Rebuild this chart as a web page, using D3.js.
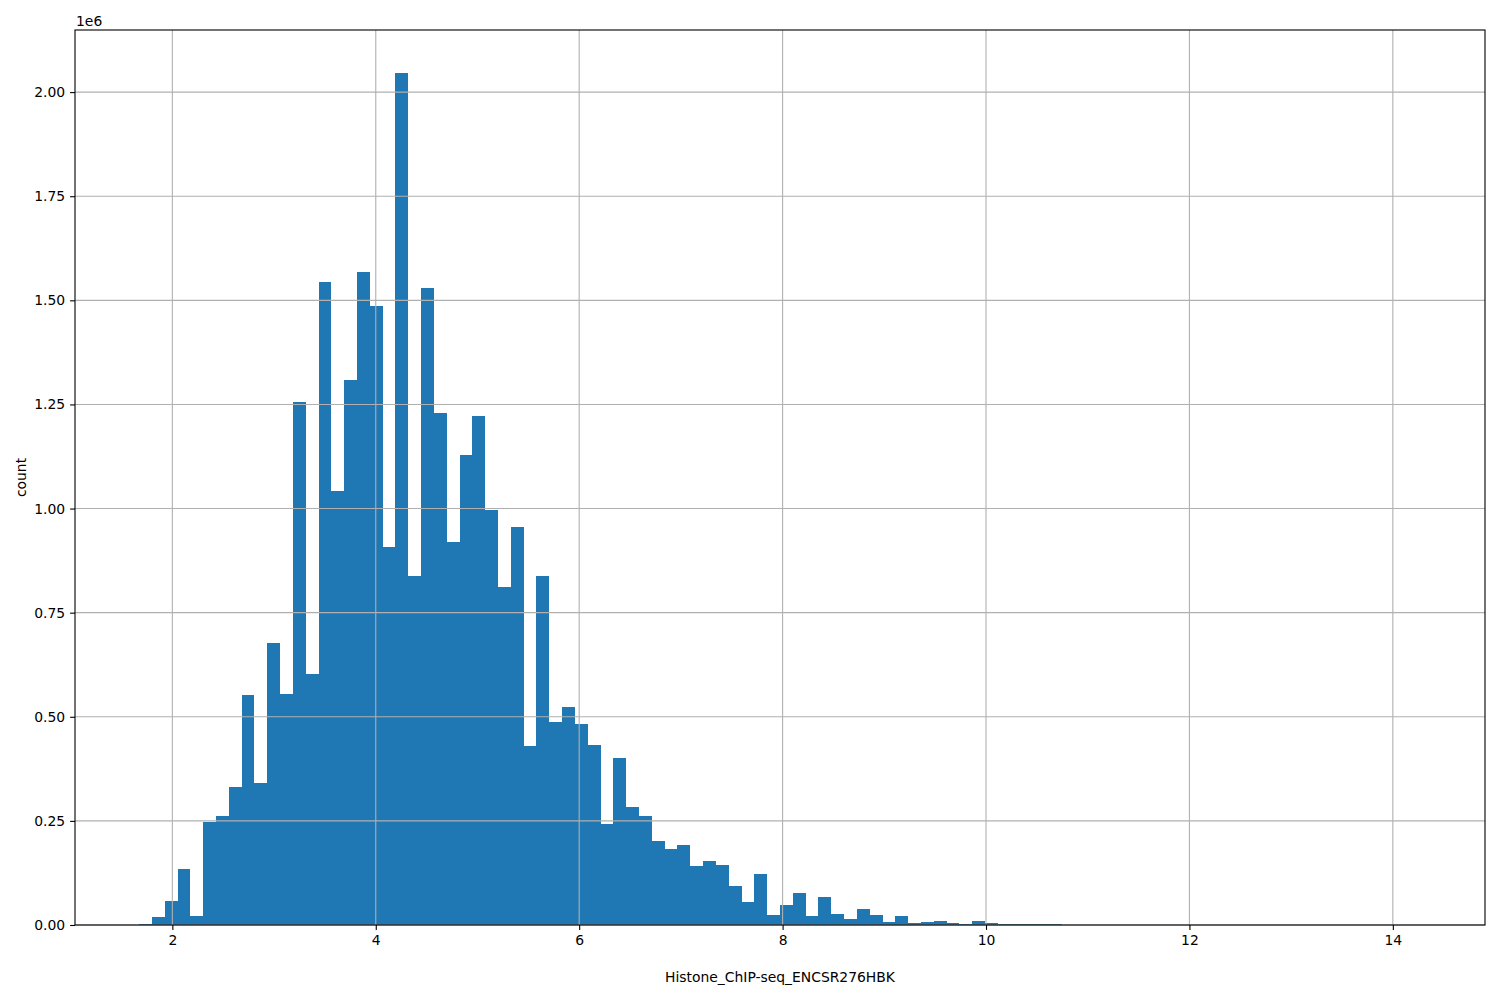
<!DOCTYPE html>
<html>
<head>
<meta charset="utf-8">
<script src="https://cdn.jsdelivr.net/npm/d3@7"></script>
<style>
  body { margin: 0; background: #fff; }
  svg { display: block; font-family: "DejaVu Sans", sans-serif; }
</style>
</head>
<body>
<svg id="chart" width="1500" height="1000"></svg>
<script>
// ---- data ----
const binMin = 1.673;
const binMax = 14.276;
const counts = [
  2400, 20000, 58000, 134500, 22000, 248000, 262000, 331500, 552500, 341000,
  677000, 555000, 1256000, 603000, 1544600, 1043000, 1309000, 1568600, 1487000, 908800,
  2046800, 838500, 1530000, 1230000, 920000, 1129000, 1222400, 997000, 812400, 955800,
  430000, 838500, 487600, 523700, 482800, 432400, 242600, 401200, 283500, 261800,
  201800, 182600, 192200, 141700, 153700, 144100, 93700, 55200, 122500, 24000,
  48000, 76900, 21600, 67300, 26400, 14400, 38400, 24000, 7200, 21600,
  4800, 7200, 9600, 4800, 2400, 9600, 4800, 2600, 2200, 1900,
  1700, 1400, 600, 450, 350, 280, 220, 180, 150, 120,
  100, 80, 70, 60, 50, 40, 35, 30, 25, 20,
  15, 12, 10, 8, 6, 5, 4, 3, 2, 1
];
const xTicks = [2, 4, 6, 8, 10, 12, 14];
const yTicks = [0, 250000, 500000, 750000, 1000000, 1250000, 1500000, 1750000, 2000000];
const xLabel = "Histone_ChIP-seq_ENCSR276HBK";
const yLabel = "count";
const offsetLabel = "1e6";

// ---- layout ----
const L = 75, R = 1485, T = 30, B = 925;
const fontPx = 13.9;
const svg = d3.select("#chart");

const nb = counts.length;
const bw = (binMax - binMin) / nb;
const bins = counts.map((c, i) => ({ x0: binMin + i * bw, x1: binMin + (i + 1) * bw, c }));

const span = binMax - binMin;
const x = d3.scaleLinear().domain([binMin - 0.05 * span, binMax + 0.05 * span]).range([L, R]);
const yMax = d3.max(counts) * 1.05;
const y = d3.scaleLinear().domain([0, yMax]).range([B, T]);

// bars
svg.append("g").selectAll("rect").data(bins).join("rect")
  .attr("x", d => x(d.x0))
  .attr("width", d => x(d.x1) - x(d.x0))
  .attr("y", d => y(d.c))
  .attr("height", d => B - y(d.c))
  .attr("fill", "#1f77b4")
  .attr("shape-rendering", "crispEdges");

// grid (above bars)
const grid = svg.append("g").attr("stroke", "#b0b0b0").attr("stroke-width", 1.1);
grid.selectAll("line.gx").data(xTicks).join("line").attr("class", "gx")
  .attr("x1", d => x(d)).attr("x2", d => x(d)).attr("y1", T).attr("y2", B);
grid.selectAll("line.gy").data(yTicks).join("line").attr("class", "gy")
  .attr("y1", d => y(d)).attr("y2", d => y(d)).attr("x1", L).attr("x2", R);

// axes
const xAxis = d3.axisBottom(x).tickValues(xTicks).tickFormat(d3.format("d"))
  .tickSize(4.9).tickPadding(4.9);
const yAxis = d3.axisLeft(y).tickValues(yTicks).tickFormat(d => (d / 1e6).toFixed(2))
  .tickSize(4.9).tickPadding(4.9);

const gx = svg.append("g").attr("transform", `translate(0,${B})`).call(xAxis);
const gy = svg.append("g").attr("transform", `translate(${L},0)`).call(yAxis);
[gx, gy].forEach(g => {
  g.select(".domain").remove();
  g.selectAll(".tick line").attr("stroke", "#000").attr("stroke-width", 1.1);
  g.selectAll(".tick text").attr("fill", "#000")
    .style("font-size", fontPx + "px").style("font-family", "DejaVu Sans, sans-serif");
});

// spines
svg.append("rect").attr("x", L).attr("y", T).attr("width", R - L).attr("height", B - T)
  .attr("fill", "none").attr("stroke", "#000").attr("stroke-width", 1.1);

// labels
svg.append("text").attr("x", (L + R) / 2).attr("y", 982).attr("text-anchor", "middle")
  .style("font-size", fontPx + "px").text(xLabel);
svg.append("text").attr("transform", `translate(26,${(T + B) / 2}) rotate(-90)`)
  .attr("text-anchor", "middle").style("font-size", fontPx + "px").text(yLabel);
svg.append("text").attr("x", L + 1).attr("y", 26).attr("text-anchor", "start")
  .style("font-size", fontPx + "px").text(offsetLabel);
</script>
</body>
</html>
